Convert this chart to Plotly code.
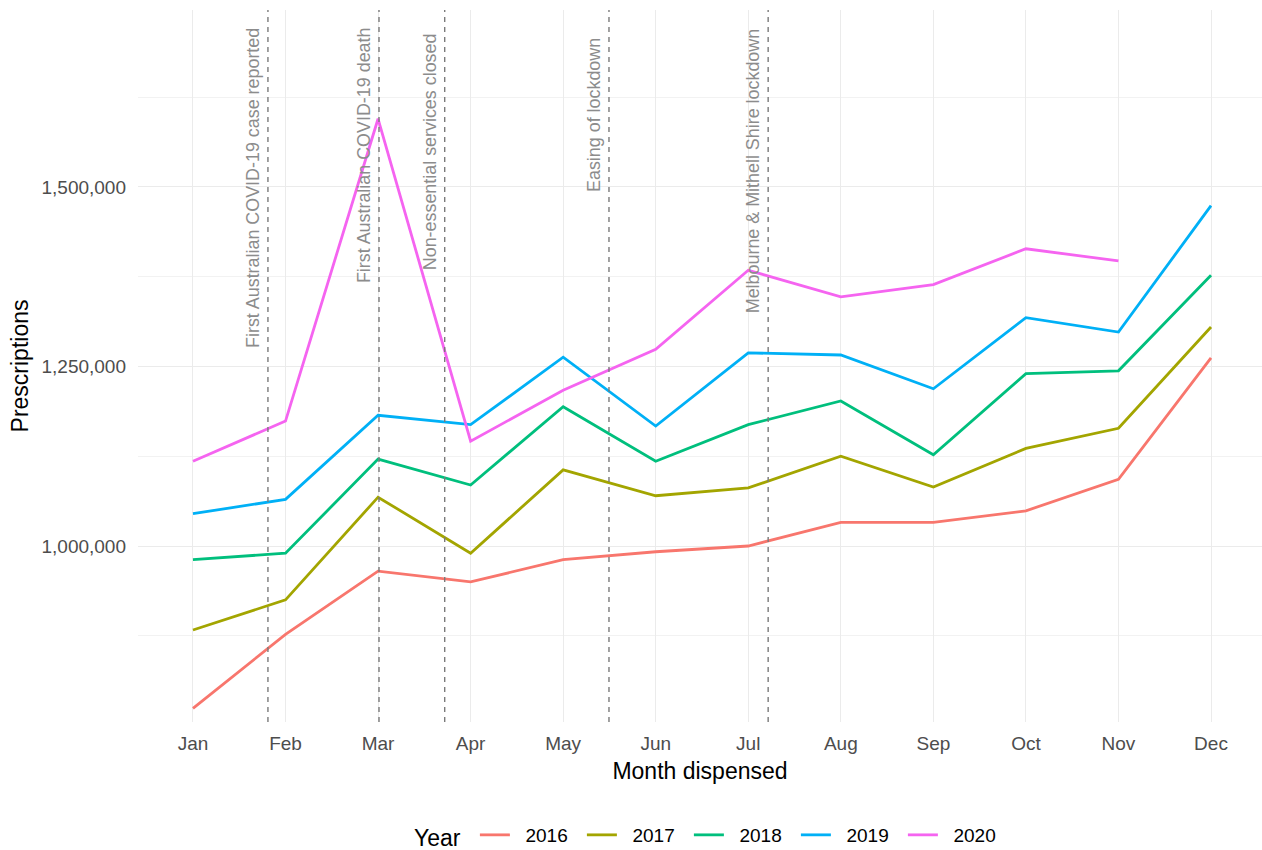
import plotly.graph_objects as go

MONTHS = ["Jan", "Feb", "Mar", "Apr", "May", "Jun", "Jul", "Aug", "Sep", "Oct", "Nov", "Dec"]
MONTH_POS = list(range(1, 13))
YEARS = ["2016", "2017", "2018", "2019", "2020"]

rx_2016 = [774000, 877000, 965000, 950000, 981000, 992000, 1000000, 1033000, 1033000, 1049000, 1093000, 1262000]
rx_2017 = [883000, 925000, 1068000, 990000, 1106000, 1070000, 1081000, 1125000, 1082000, 1136000, 1164000, 1305000]
rx_2018 = [981000, 990000, 1121000, 1085000, 1194000, 1118000, 1169000, 1202000, 1127000, 1240000, 1244000, 1377000]
rx_2019 = [1045000, 1065000, 1182000, 1169000, 1263000, 1167000, 1269000, 1266000, 1219000, 1318000, 1298000, 1474000]
rx_2020 = [1118000, 1174000, 1595000, 1146000, 1217000, 1274000, 1384000, 1347000, 1364000, 1414000, 1397000, None]

# Events (position in month units, e.g. 1.81 = late January)
EVENT_POS = [1.81, 3.01, 3.72, 5.495, 7.215]
EVENT_LABELS = [
    "First Australian COVID-19 case reported",
    "First Australian COVID-19 death",
    "Non-essential services closed",
    "Easing of lockdown",
    "Melbourne & Mithell Shire lockdown",
]
EVENT_LABEL_TOP = [0.9775, 0.9788, 0.9705, 0.9635, 0.976]

COLORS = ["#F8766D", "#A3A500", "#00BF7D", "#00B0F6", "#F564F0"]
SERIES = [rx_2016, rx_2017, rx_2018, rx_2019, rx_2020]

FONT = "Liberation Sans, Arial, sans-serif"
NB = "\u00a0"

fig = go.Figure()
for yr, vals, col in zip(YEARS, SERIES, COLORS):
    fig.add_trace(go.Scatter(
        x=MONTH_POS, y=vals, mode="lines", name=NB * 2 + yr,
        line=dict(color=col, width=2.8),
    ))

for pos, lab, top in zip(EVENT_POS, EVENT_LABELS, EVENT_LABEL_TOP):
    fig.add_shape(type="line", xref="x", yref="paper", x0=pos, x1=pos, y0=0, y1=1,
                  line=dict(color="#7a7a7a", width=1.4, dash="5px,5px"), layer="above")
    fig.add_annotation(x=pos, xref="x", y=top, yref="paper", text=lab, textangle=-90,
                       showarrow=False, xanchor="center", yanchor="top", xshift=-15,
                       font=dict(family=FONT, size=17.9, color="#8c8c8c"))

fig.update_layout(
    width=1262, height=850,
    margin=dict(l=138, r=0, t=10, b=128, autoexpand=False),
    paper_bgcolor="white", plot_bgcolor="white",
    font=dict(family=FONT, color="#000000"),
    showlegend=True,
    legend=dict(orientation="h", xref="paper", x=0.5098, xanchor="center",
                yref="container", y=1 - 836 / 850, yanchor="middle",
                title=dict(text="Year" + NB, side="left", font=dict(size=23, color="black")),
                font=dict(size=19, color="black"), itemwidth=30, entrywidth=62,
                bgcolor="rgba(0,0,0,0)"),
)

fig.update_xaxes(
    range=[0.406, 12.551], tickvals=MONTH_POS, ticktext=MONTHS, automargin=False,
    showgrid=True, gridcolor="#EBEBEB", gridwidth=1.1, zeroline=False, showline=False,
    ticks="", tickfont=dict(size=19, color="#4D4D4D"), ticklabelstandoff=8,
    title=dict(text="Month dispensed", font=dict(size=23, color="black"), standoff=9),
)
fig.update_yaxes(
    range=[754900, 1746500], tick0=0, dtick=250000, tickformat=",", automargin=False,
    showgrid=True, gridcolor="#EBEBEB", gridwidth=1.1, zeroline=False, showline=False,
    minor=dict(dtick=125000, tick0=0, showgrid=True, gridcolor="#F2F2F2", gridwidth=0.6),
    ticks="", tickfont=dict(size=19, color="#4D4D4D"), ticklabelstandoff=11,
    title=dict(text="Prescriptions", font=dict(size=23, color="black"), standoff=6),
)

fig.write_html("out.html", config={"displayModeBar": False},
               post_script="document.body.style.margin='0';document.body.style.overflow='hidden';")
